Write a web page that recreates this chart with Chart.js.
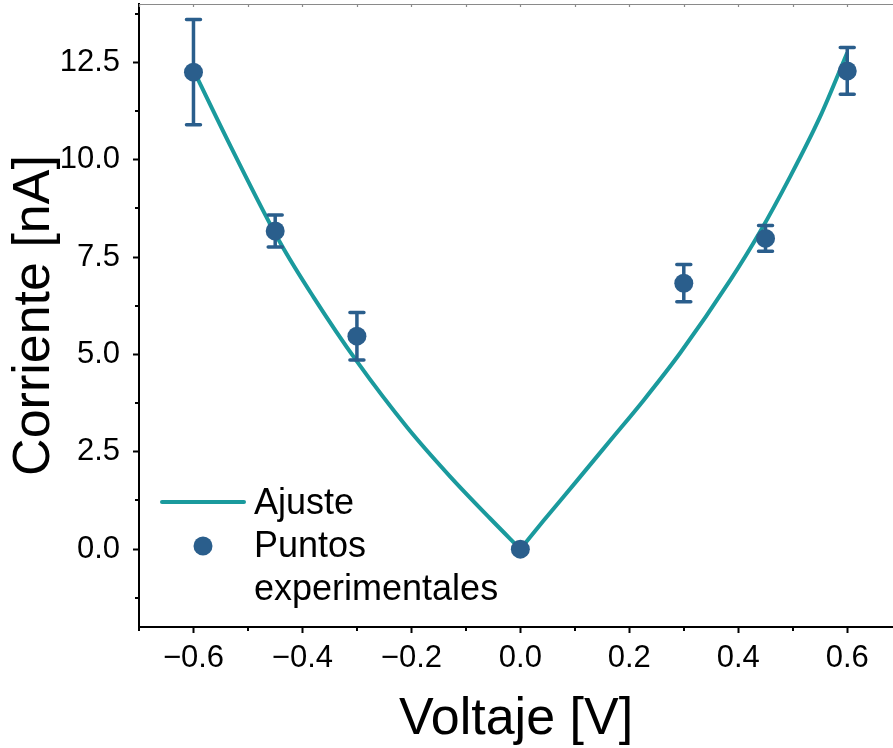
<!DOCTYPE html>
<html><head><meta charset="utf-8">
<script src="https://cdn.jsdelivr.net/npm/chart.js@4"></script>
<style>html,body{margin:0;padding:0;background:#fff;overflow:hidden}</style>
</head><body>
<canvas id="c" width="893" height="748"></canvas>
<script>
// ---- data ----
const voltage    = [-0.6, -0.45, -0.3, 0, 0.3, 0.45, 0.6];
const current    = [12.25, 8.17, 5.47, 0, 6.83, 7.98, 12.28];
const currentErr = [1.35, 0.41, 0.61, 0, 0.48, 0.33, 0.6];

const fitLeftV  = [-0.6, -0.532, -0.44, -0.38, -0.3, -0.208, -0.128, -0.055, 0];
const fitLeftI  = [12.3, 10.35, 7.85, 6.48, 4.82, 3.13, 1.85, 0.78, 0];
const fitRightV = [0, 0.042, 0.104, 0.165, 0.226, 0.294, 0.385, 0.44, 0.495, 0.55, 0.6];
const fitRightI = [0, 0.72, 1.76, 2.79, 3.82, 5.05, 6.9, 8.15, 9.56, 11.1, 12.75];

const xTicks      = [-0.6, -0.4, -0.2, 0, 0.2, 0.4, 0.6];
const xMinorTicks = [-0.7, -0.5, -0.3, -0.1, 0.1, 0.3, 0.5];
const yTicks      = [0, 2.5, 5, 7.5, 10, 12.5];
const yMinorTicks = [-1.25, 1.25, 3.75, 6.25, 8.75, 11.25, 13.75];

const seriesFitLabel = 'Ajuste';
const seriesPtsLabel = ['Puntos', 'experimentales'];
const xTitle = 'Voltaje [V]';
const yTitle = 'Corriente [nA]';

const FONT = "'Liberation Sans', Arial, sans-serif";
const PT_COLOR = '#2A5E8C';
const FIT_COLOR = '#1A9A9D';

function fmt(v){
  const s = Math.abs(v).toFixed(1);
  return v < -1e-9 ? '\u2212' + s : s;
}

const decor = {
  id: 'decor',
  beforeDatasetDraw(chart, args){
    if (args.index !== 0) return;
    const ctx = chart.ctx, xs = chart.scales.x, ys = chart.scales.y;
    ctx.save();
    ctx.strokeStyle = PT_COLOR; ctx.lineWidth = 3.5; ctx.lineCap = 'round';
    for (let i = 0; i < voltage.length; i++){
      const e = currentErr[i]; if (!e) continue;
      const x = xs.getPixelForValue(voltage[i]);
      const y1 = ys.getPixelForValue(current[i] + e);
      const y2 = ys.getPixelForValue(current[i] - e);
      ctx.beginPath();
      ctx.moveTo(x, y1); ctx.lineTo(x, y2);
      ctx.moveTo(x - 7, y1); ctx.lineTo(x + 7, y1);
      ctx.moveTo(x - 7, y2); ctx.lineTo(x + 7, y2);
      ctx.stroke();
    }
    ctx.restore();
  },
  afterDraw(chart){
    const ctx = chart.ctx, xs = chart.scales.x, ys = chart.scales.y, a = chart.chartArea;
    ctx.save();
    // minor ticks
    ctx.strokeStyle = '#000'; ctx.lineWidth = 2;
    ctx.beginPath();
    xMinorTicks.forEach(v => { const x = Math.round(xs.getPixelForValue(v)); ctx.moveTo(x, a.bottom); ctx.lineTo(x, a.bottom + 4); });
    yMinorTicks.forEach(v => { const y = Math.round(ys.getPixelForValue(v)); ctx.moveTo(a.left, y); ctx.lineTo(a.left - 4, y); });
    ctx.stroke();
    // top frame
    ctx.strokeStyle = '#8a8a8a'; ctx.lineWidth = 1.2;
    ctx.beginPath();
    ctx.moveTo(a.left, a.top + 0.5); ctx.lineTo(a.right, a.top + 0.5);
    xTicks.concat(xMinorTicks).forEach(v => { const x = Math.round(xs.getPixelForValue(v)) + 0.5; ctx.moveTo(x, a.top); ctx.lineTo(x, a.top + 3); });
    ctx.stroke();
    // legend
    const lx = a.left + 23, ly = a.bottom - 125;
    ctx.strokeStyle = FIT_COLOR; ctx.lineWidth = 4; ctx.lineCap = 'round';
    ctx.beginPath(); ctx.moveTo(lx, ly); ctx.lineTo(lx + 82, ly); ctx.stroke();
    ctx.fillStyle = PT_COLOR;
    ctx.beginPath(); ctx.arc(lx + 41, ly + 44, 9.5, 0, Math.PI * 2); ctx.fill();
    ctx.fillStyle = '#000'; ctx.font = '36px ' + FONT; ctx.textBaseline = 'alphabetic'; ctx.textAlign = 'left';
    ctx.fillText(seriesFitLabel, lx + 92, ly + 12);
    ctx.fillText(seriesPtsLabel[0], lx + 92, ly + 55);
    ctx.fillText(seriesPtsLabel[1], lx + 92, ly + 98);
    ctx.restore();
  }
};

function zeroPad(s){ s.paddingTop = 0; s.paddingBottom = 0; s.paddingLeft = 0; s.paddingRight = 0; }

new Chart(document.getElementById('c'), {
  type: 'scatter',
  data: {
    datasets: [
      { label: seriesPtsLabel.join(' '), data: voltage.map((v, i) => ({x: v, y: current[i]})),
        pointRadius: 9.5, pointBackgroundColor: PT_COLOR, pointBorderWidth: 0, showLine: false, order: 0, clip: false },
      { label: seriesFitLabel, data: fitLeftV.map((v, i) => ({x: v, y: fitLeftI[i]})),
        showLine: true, borderColor: FIT_COLOR, borderWidth: 4, pointRadius: 0, cubicInterpolationMode: 'monotone', order: 2 },
      { label: seriesFitLabel, data: fitRightV.map((v, i) => ({x: v, y: fitRightI[i]})),
        showLine: true, borderColor: FIT_COLOR, borderWidth: 4, pointRadius: 0, cubicInterpolationMode: 'monotone', order: 2 }
    ]
  },
  options: {
    responsive: false, animation: false, devicePixelRatio: 1,
    layout: { autoPadding: false, padding: { top: 4, right: 0, left: 0, bottom: 0 } },
    plugins: { legend: { display: false }, tooltip: { enabled: false } },
    scales: {
      x: {
        type: 'linear', min: -0.7, max: 0.684,
        afterBuildTicks: s => { s.ticks = xTicks.map(v => ({value: v})); },
        afterFit: s => { s.height = 121; zeroPad(s); },
        grid: { drawOnChartArea: false, drawTicks: true, tickLength: 6, tickWidth: 2, tickColor: '#000' },
        border: { display: true, color: '#000', width: 2 },
        ticks: { color: '#000', font: { family: FONT, size: 31 }, padding: 7, maxRotation: 0, autoSkip: false, callback: v => fmt(v) },
        title: { display: true, text: xTitle, color: '#000', font: { family: FONT, size: 52 }, padding: { top: 0, bottom: -3 } }
      },
      y: {
        type: 'linear', min: -2, max: 14,
        afterBuildTicks: s => { s.ticks = yTicks.map(v => ({value: v})); },
        afterFit: s => { s.width = 139; zeroPad(s); },
        grid: { drawOnChartArea: false, drawTicks: true, tickLength: 6, tickWidth: 2, tickColor: '#000' },
        border: { display: true, color: '#000', width: 2 },
        ticks: { color: '#000', font: { family: FONT, size: 31 }, padding: 13, autoSkip: false, callback: v => v.toFixed(1) },
        title: { display: true, text: yTitle, color: '#000', font: { family: FONT, size: 52 }, padding: { top: 3, bottom: 0 } }
      }
    }
  },
  plugins: [decor]
});
</script>
</body></html>
